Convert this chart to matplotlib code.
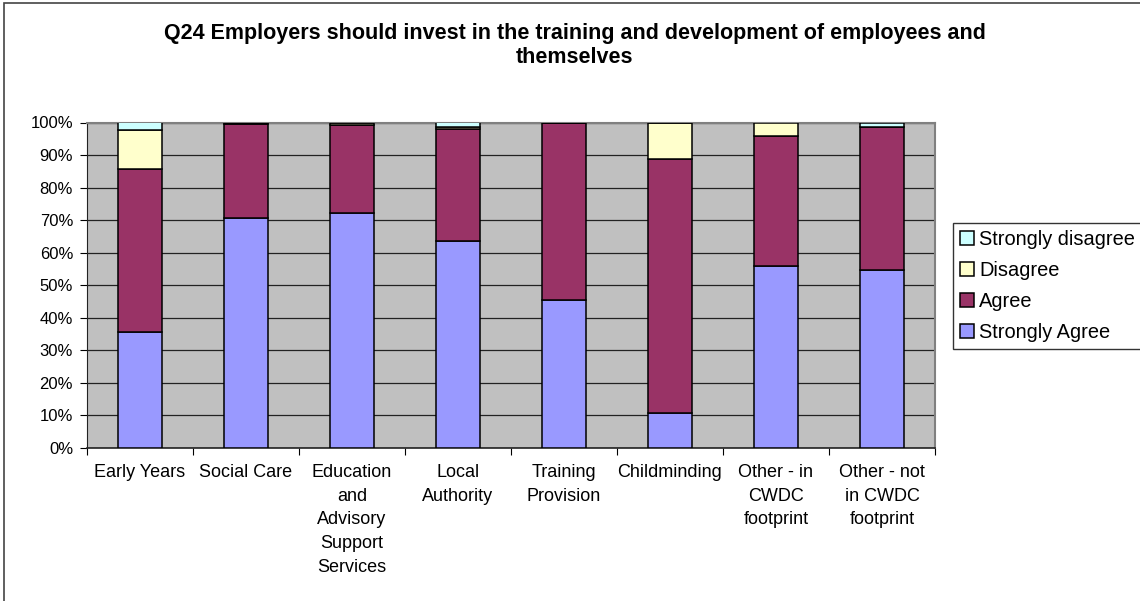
import numpy as np
import matplotlib.pyplot as plt
from matplotlib.patches import Rectangle
from matplotlib.ticker import FixedLocator

plt.rcParams['font.family'] = ['Liberation Sans', 'DejaVu Sans']

categories = ["Early Years", "Social Care",
              "Education\nand\nAdvisory\nSupport\nServices",
              "Local\nAuthority", "Training\nProvision", "Childminding",
              "Other - in\nCWDC\nfootprint", "Other - not\nin CWDC\nfootprint"]
series = ["Strongly Agree", "Agree", "Disagree", "Strongly disagree"]
strongly_agree = [35.5, 70.6, 72.1, 63.5, 45.6, 10.8, 55.8, 54.8]
agree = [50.1, 28.9, 27.1, 34.4, 54.4, 77.9, 40.2, 43.7]
disagree = [12.2, 0.3, 0.5, 0.7, 0.0, 11.3, 4.0, 0.0]
strongly_disagree = [2.2, 0.2, 0.3, 1.4, 0.0, 0.0, 0.0, 1.5]
colors = ["#9999FF", "#993366", "#FFFFCC", "#CCFFFF"]

W, H = 1140, 601
fig = plt.figure(figsize=(W / 100, H / 100), dpi=100)

# chart area frame
fig.patches.append(Rectangle((4 / W, -0.1), 1.2, 1 - 3 / H + 0.1,
                             transform=fig.transFigure, fill=False,
                             edgecolor="#444444", linewidth=1.2))

ax = fig.add_axes([87 / W, 1 - 448 / H, (935 - 87) / W, (448 - 122.5) / H])
ax.set_facecolor("#C0C0C0")

x = np.arange(len(categories))
bottom = np.zeros(len(categories))
handles = []
for name, vals, col in zip(series, [strongly_agree, agree, disagree, strongly_disagree], colors):
    vals = np.array(vals)
    b = ax.bar(x, vals, 0.41, bottom=bottom, color=col, edgecolor="black",
               linewidth=1.1, label=name, zorder=3)
    handles.append(b)
    bottom += vals

ax.set_xlim(-0.5, len(categories) - 0.5)
ax.set_ylim(0, 100)
ax.set_yticks(np.arange(0, 101, 10))
ax.set_yticklabels([f"{v}%" for v in range(0, 101, 10)], fontsize=12)
ax.yaxis.grid(True, color="#222222", linewidth=0.9, zorder=1)
ax.set_axisbelow(True)

ax.xaxis.set_major_locator(FixedLocator(np.arange(-0.5, len(categories), 1.0)))
ax.xaxis.set_minor_locator(FixedLocator(x))
ax.set_xticklabels([])
ax.set_xticklabels(categories, minor=True, fontsize=13, linespacing=1.52,
                   ha="center", va="top")
ax.tick_params(axis="x", which="major", length=5, width=0.8, direction="out")
ax.tick_params(axis="x", which="minor", length=0, pad=11.5)
ax.tick_params(axis="y", length=5, width=0.8, pad=5)

for side in ["top", "right"]:
    ax.spines[side].set_color("#808080")
    ax.spines[side].set_linewidth(1.5)
ax.spines["left"].set_color("#222222")
ax.spines["bottom"].set_color("#222222")
ax.spines["bottom"].set_linewidth(1.2)

fig.text(575 / W, 1 - 45.5 / H,
         "Q24 Employers should invest in the training and development of employees and\nthemselves",
         ha="center", va="center", fontsize=15.5, fontweight="bold", linespacing=1.2)

leg = fig.legend(handles[::-1], series[::-1], loc="upper left",
                 bbox_to_anchor=(953 / W, 1 - 223 / H), fontsize=14.4,
                 frameon=True, fancybox=False, edgecolor="black",
                 handlelength=0.7, handleheight=0.7, handletextpad=0.25,
                 labelspacing=0.6, borderpad=0.35, borderaxespad=0)
leg.get_frame().set_linewidth(1.0)

fig.savefig("out.png", dpi=100)
